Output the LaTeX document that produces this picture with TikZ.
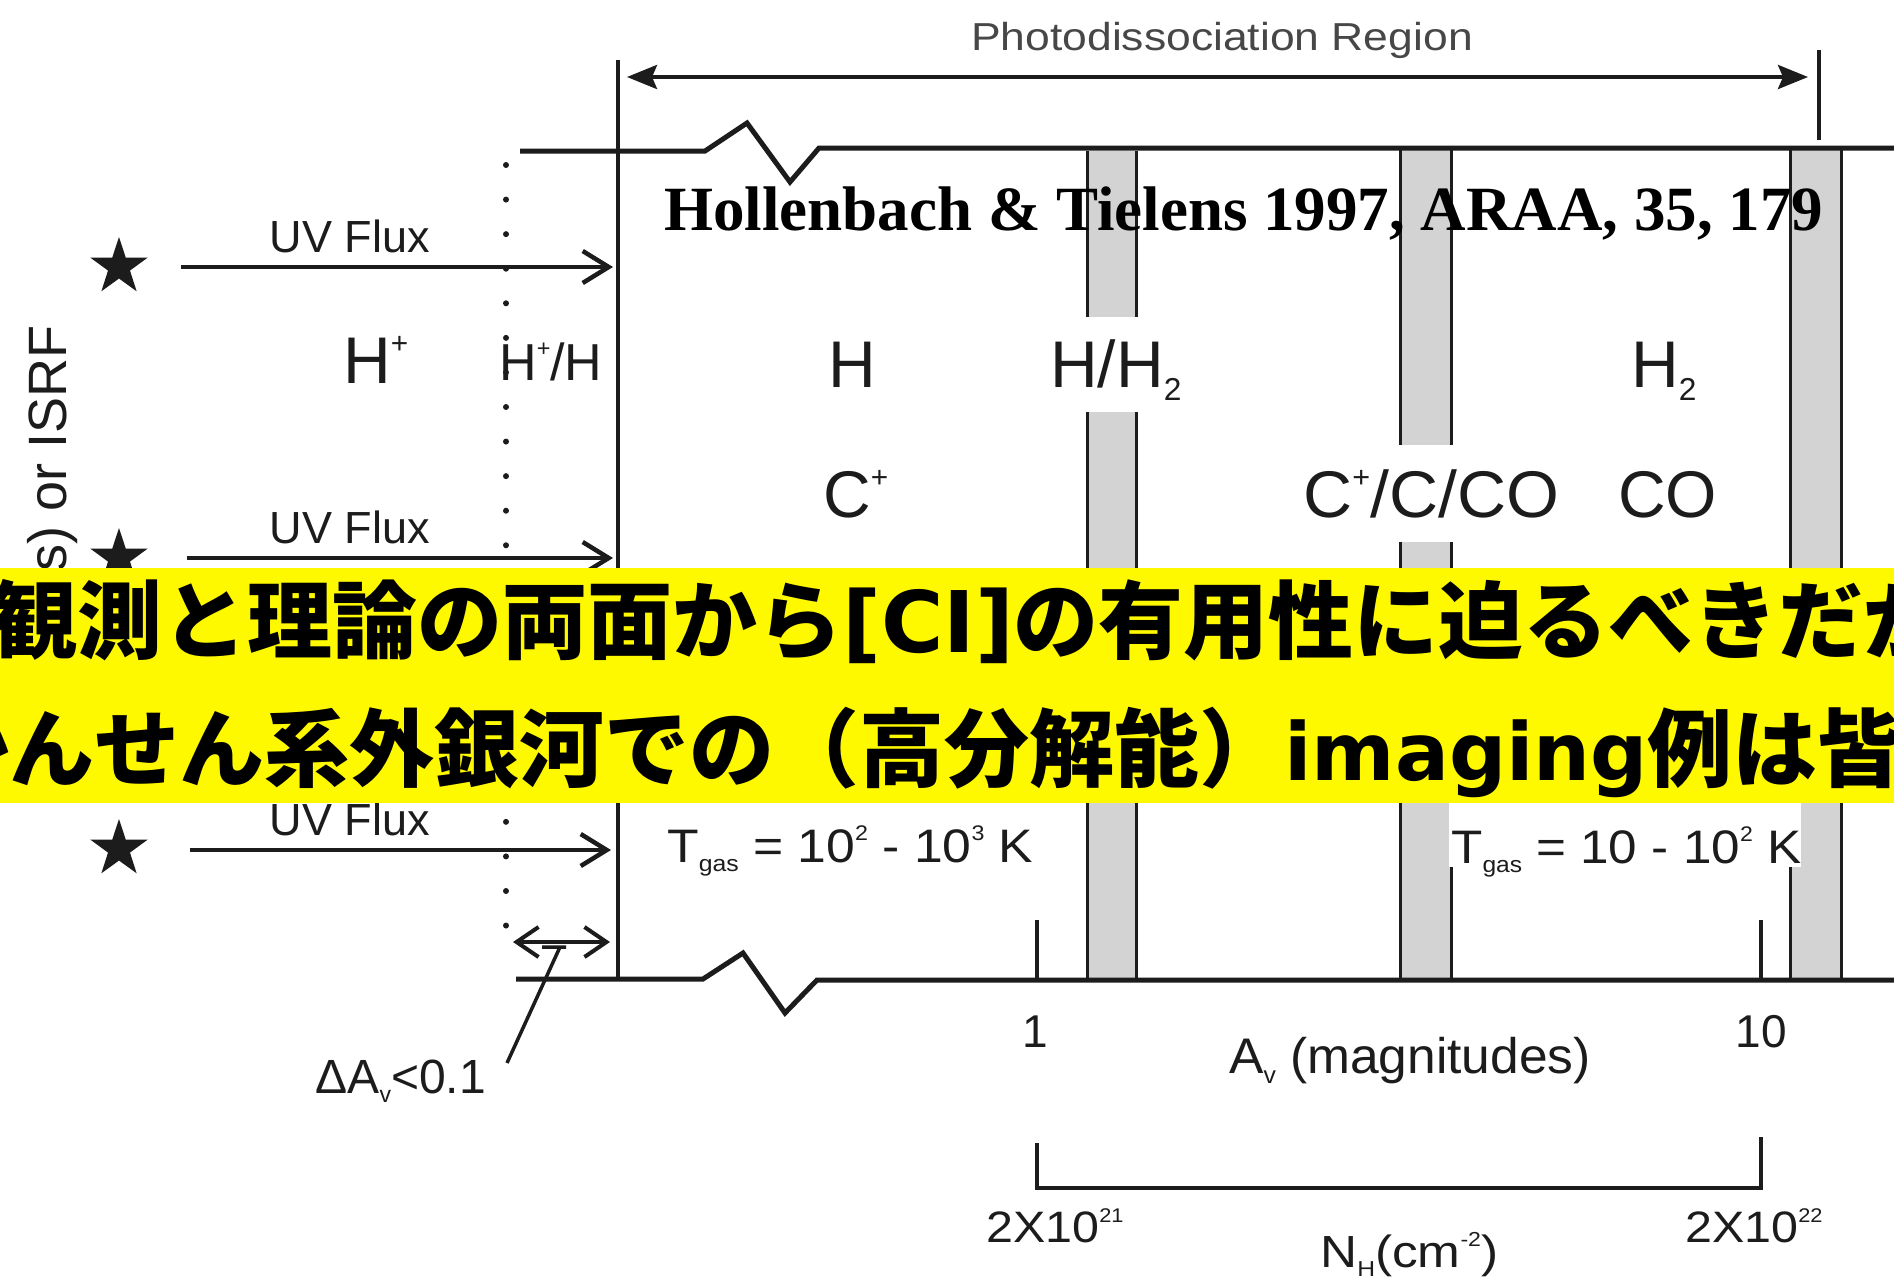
\documentclass[tikz,border=0pt]{standalone}
\usepackage{fontspec}
\setmainfont{Liberation Sans}
\newfontfamily\cjkfont{Noto Sans CJK JP}
\newfontfamily\citefont{Liberation Serif}
\newfontfamily\latinb{DejaVu Sans}
\usetikzlibrary{arrows.meta,shapes.geometric}
\newcommand\fsz[1]{\fontsize{#1}{#1}\selectfont}
\newcommand\upi[1]{\raisebox{0.45em}{\scalebox{0.45}{#1}}}
\newcommand\dni[1]{\raisebox{-0.2em}{\scalebox{0.48}{#1}}}
\definecolor{barfill}{HTML}{D3D3D3}
\definecolor{ylw}{HTML}{FFF900}
\definecolor{ink}{HTML}{1C1C1C}
\begin{document}
\begin{tikzpicture}[x=1pt,y=-1pt,
  lab/.style={inner sep=0pt, text=ink},
  hline/.style={line width=5pt, draw=ink, line join=miter},
  vline/.style={line width=3.5pt, draw=ink},
  bord/.style={line width=3pt, draw=ink},
  uvarrow/.style={line width=4.5pt, draw=ink, -{Straight Barb[length=26pt,width=32pt]}},
  starnode/.style={star, star points=5, star point ratio=2.6, fill=ink, draw=none, inner sep=0pt, minimum size=60pt},
]
\useasboundingbox (0,0) rectangle (1894,1286);
\clip (0,0) rectangle (1894,1286);
\fill[white] (0,0) rectangle (1894,1286);

% ---- shaded bars ----
\fill[barfill] (1087,151) rectangle (1136,317);
\fill[barfill] (1087,412) rectangle (1136,979);
\fill[barfill] (1400,148) rectangle (1451,445);
\fill[barfill] (1400,542) rectangle (1451,979);
\fill[barfill] (1790,148) rectangle (1841,979);
\draw[bord] (1087,151) -- (1087,317) (1136,151) -- (1136,317);
\draw[bord] (1087,412) -- (1087,979) (1136,412) -- (1136,979);
\draw[bord] (1400,148) -- (1400,445) (1451,148) -- (1451,445);
\draw[bord] (1400,542) -- (1400,979) (1451,542) -- (1451,979);
\draw[bord] (1790,148) -- (1790,979) (1841,148) -- (1841,979);

% ---- frame lines ----
\draw[vline] (618,60) -- (618,979);
\draw[vline] (1819,50) -- (1819,140);
\draw[hline] (520,151) -- (705,151) -- (747,123) -- (790,182) -- (819,148) -- (1894,148);
\draw[hline] (516,979) -- (703,979) -- (743,953) -- (785,1013) -- (817,980) -- (1894,980);

% ---- ticks and N_H bracket ----
\draw[vline] (1037,920) -- (1037,979);
\draw[vline] (1761,920) -- (1761,979);
\draw[line width=4.5pt, draw=ink] (1037,1143) -- (1037,1188) -- (1761,1188) -- (1761,1137);

% ---- dotted boundary ----
\draw[line width=6pt, line cap=round, dash pattern=on 0pt off 34.57pt, draw=ink] (506,165) -- (506,960);

% ---- Photodissociation Region arrow ----
\coordinate (pl) at (627,77);
\coordinate (pr) at (1808,77);
\draw[line width=4pt, draw=ink, {Stealth[length=30pt,width=24pt,inset=5pt]}-{Stealth[length=30pt,width=24pt,inset=5pt]}] (pl) -- (pr);
\node[lab, text=black!72, anchor=base, font=\fsz{39}] (pdr) at (1222,50) {\scalebox{1.14}[1]{Photodissociation Region}};

% ---- stars and UV arrows ----
\node[starnode] (st1) at (119,267) {};
\node[starnode] (st2) at (119,558) {};
\node[starnode] (st3) at (119,849) {};
\coordinate (u1a) at (181,267); \coordinate (u1b) at (613,267);
\coordinate (u2a) at (187,558); \coordinate (u2b) at (613,558);
\coordinate (u3a) at (190,850); \coordinate (u3b) at (611,850);
\draw[uvarrow] (u1a) -- (u1b);
\draw[uvarrow] (u2a) -- (u2b);
\draw[uvarrow] (u3a) -- (u3b);
\node[lab, anchor=base, font=\fsz{45}] (uv1) at (350,252) {UV Flux};
\node[lab, anchor=base, font=\fsz{45}] (uv2) at (350,543) {UV Flux};
\node[lab, anchor=base, font=\fsz{45}] (uv3) at (350,835) {UV Flux};

% ---- left rotated label ----
\node[lab, rotate=90, anchor=base east, font=\fsz{54}] (isrf) at (66,325) {Star(s) or ISRF};

% ---- region labels ----
\node[lab, anchor=base west, font=\fsz{66}] (hp) at (343,383) {H\upi{+}};
\node[lab, anchor=base west, font=\fsz{52}] (hph) at (499,380) {H\upi{+}/H};
\node[lab, anchor=base, font=\fsz{66}] (h) at (852,387) {H};
\node[lab, anchor=base west, font=\fsz{66}] (hh2) at (1050,387) {H/H\dni{2}};
\node[lab, anchor=base west, font=\fsz{66}] (h2) at (1631,387) {H\dni{2}};
\node[lab, anchor=base west, font=\fsz{66}] (cp) at (823,517) {C\upi{+}};
\node[lab, anchor=base west, font=\fsz{66}] (ccco) at (1303,517) {\scalebox{1.03}[1]{C\upi{+}/C/CO}};
\node[lab, anchor=base west, font=\fsz{66}] (co) at (1618,517) {CO};

% ---- temperatures ----
\node[lab, anchor=base west, font=\fsz{47}] (tg1) at (667,862) {\scalebox{1.1}[1]{T\dni{gas} = 10\upi{2} - 10\upi{3} K}};
\fill[white] (1449,803) rectangle (1801,867);
\node[lab, anchor=base west, font=\fsz{47}] (tg2) at (1451,863) {\scalebox{1.09}[1]{T\dni{gas} = 10 - 10\upi{2} K}};

% ---- axis labels ----
\node[lab, anchor=base, font=\fsz{46}] (one) at (1035,1047) {1};
\node[lab, anchor=base, font=\fsz{46}] (ten) at (1761,1047) {10};
\node[lab, anchor=base west, font=\fsz{50}] (av) at (1229,1073) {\scalebox{1.03}[1]{A\dni{v} (magnitudes)}};
\node[lab, anchor=base west, font=\fsz{44}] (n21) at (986,1242) {\scalebox{1.1}[1]{2X10\upi{21}}};
\node[lab, anchor=base west, font=\fsz{44}] (n22) at (1685,1242) {\scalebox{1.1}[1]{2X10\upi{22}}};
\node[lab, anchor=base west, font=\fsz{45}] (nh) at (1320,1267) {\scalebox{1.14}[1]{N\dni{H}(cm\upi{-2})}};

% ---- Delta A_v ----
\coordinate (da) at (513,942);
\coordinate (db) at (610,942);
\draw[line width=4pt, draw=ink, {Straight Barb[length=22pt,width=30pt]}-{Straight Barb[length=22pt,width=30pt]}] (da) -- (db);
\node[lab, anchor=base east, font=\fsz{48}] (dav) at (486,1093) {ΔA\dni{v}<0.1};
\coordinate (ls) at (542,947);
\coordinate (lk) at (566,947);
\coordinate (le) at (507,1063);
\draw[line width=3.5pt, draw=ink] (ls) -- (lk) (560,947) -- (le);

% ---- citation ----
\node[lab, text=black, anchor=base west, font=\citefont\bfseries\fsz{63}] (cite) at (664,230) {Hollenbach \& Tielens 1997, ARAA, 35, 179};

% ---- yellow banner ----
\fill[ylw] (0,568) rectangle (1894,803);
\node[lab, text=black, anchor=base west, font=\cjkfont\bfseries\fsz{85}] (y1) at (-8,652) {観測と理論の両面から{\latinb\bfseries [CI]}の有用性に迫るべきだが};
\node[lab, text=black, anchor=base west, font=\cjkfont\bfseries\fsz{85}] (y2) at (-161,780) {いかんせん系外銀河での（高分解能）{\latinb\bfseries\fsz{80}imaging}例は皆無};
\end{tikzpicture}
\end{document}
